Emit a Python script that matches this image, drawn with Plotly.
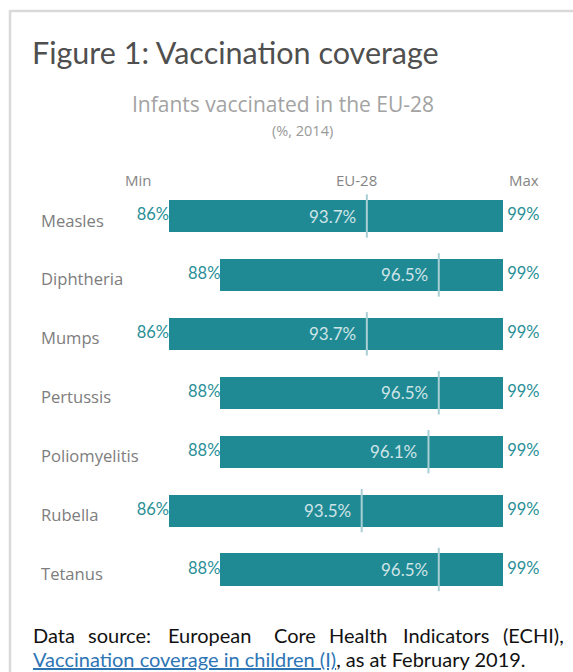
import plotly.graph_objects as go

# ---- data ----
diseases = ["Measles", "Diphtheria", "Mumps", "Pertussis", "Poliomyelitis", "Rubella", "Tetanus"]
min_vals = [86, 88, 86, 88, 88, 86, 88]
eu_vals = [93.7, 96.5, 93.7, 96.5, 96.1, 93.5, 96.5]
max_vals = [99, 99, 99, 99, 99, 99, 99]
col_headers = ["Min", "EU-28", "Max"]

W, H = 573, 672
BAR = "#1f8a94"
TEAL_TXT = "#2a8f97"
FONT = "Lato"

fig = go.Figure()

# bars from min to max
fig.add_trace(go.Bar(
    y=diseases, x=[mx - mn for mn, mx in zip(min_vals, max_vals)], base=min_vals,
    orientation="h", marker=dict(color=BAR, line=dict(width=0)), width=0.545,
    hoverinfo="skip", showlegend=False,
))
# EU-28 marker lines
fig.add_trace(go.Scatter(
    y=diseases, x=eu_vals, mode="markers",
    marker=dict(symbol="line-ns", size=31, line=dict(width=2, color="#a9cfd5")),
    hoverinfo="skip", showlegend=False,
))
# min labels
fig.add_trace(go.Scatter(
    y=diseases, x=min_vals, mode="text", text=[f"{v}%" for v in min_vals],
    textposition="middle left", textfont=dict(family=FONT, size=16.5, color=TEAL_TXT),
    hoverinfo="skip", showlegend=False,
))
# max labels
fig.add_trace(go.Scatter(
    y=diseases, x=max_vals, mode="text", text=[f" {v}%" for v in max_vals],
    textposition="middle right", textfont=dict(family=FONT, size=16.5, color=TEAL_TXT),
    hoverinfo="skip", showlegend=False,
))

annotations = []
# EU-28 value labels inside bars
for d, v in zip(diseases, eu_vals):
    annotations.append(dict(
        x=v, y=d, xref="x", yref="y", text=f"{v}%", showarrow=False,
        xanchor="right", xshift=-9, font=dict(family=FONT, size=17, color="#cfe4e7"),
    ))
# category labels
for d in diseases:
    annotations.append(dict(
        x=39 / W, y=d, xref="paper", yref="y", text=d, showarrow=False,
        xanchor="left", yshift=-4, font=dict(family="Open Sans", size=16.6, color="#7d7d7d"),
    ))

def py(pix):
    return 1 - pix / H

# column headers
hdr_x = [min_vals[0] - 1.2, eu_vals[0] - 0.4, max_vals[0] + 0.8]
for t, hx in zip(col_headers, hdr_x):
    annotations.append(dict(
        x=hx, y=py(180), xref="x", yref="paper", text=t, showarrow=False,
        xanchor="center", yanchor="middle", font=dict(family="Open Sans", size=15, color="#858585"),
    ))

# title & subtitles
annotations.append(dict(x=30 / W, y=py(52), xref="paper", yref="paper",
                        text="Figure 1: Vaccination coverage", showarrow=False,
                        xanchor="left", yanchor="middle",
                        font=dict(family=FONT, size=30.5, color="#4f4f4f")))
annotations.append(dict(x=283 / W, y=py(104), xref="paper", yref="paper",
                        text="Infants vaccinated in the EU-28", showarrow=False,
                        xanchor="center", yanchor="middle",
                        font=dict(family="Open Sans", size=21, color="#a3a3a3")))
annotations.append(dict(x=303 / W, y=py(131), xref="paper", yref="paper",
                        text="(%, 2014)", showarrow=False,
                        xanchor="center", yanchor="middle",
                        font=dict(family="Open Sans", size=14.5, color="#9a9a9a")))

# footer (justified first line)
words = ["Data", "source:", "European", "Core", "Health", "Indicators", "(ECHI),"]
word_x = [31, 86, 166, 272, 327, 401, 501]
for w_, wx in zip(words, word_x):
    annotations.append(dict(x=wx / W, y=py(635), xref="paper", yref="paper",
                            text=w_, showarrow=False, xanchor="left", yanchor="middle",
                            font=dict(family=FONT, size=20, color="#111111")))
annotations.append(dict(x=31 / W, y=py(659), xref="paper", yref="paper",
                        text="<span style='color:#2e75b6'><u>Vaccination coverage in children (I)</u></span>, as at February 2019.",
                        showarrow=False, xanchor="left", yanchor="middle",
                        font=dict(family=FONT, size=20, color="#111111")))

# axis mapping: 86 -> 169px, 99 -> 503px
ppu = (503 - 169) / 13.0
x0 = 86 - 169 / ppu
x1 = 99 + (W - 503) / ppu
step = 58.92
yc0 = 216
y_top = -yc0 / step
y_bot = (H - yc0) / step

fig.update_layout(
    width=W, height=H, margin=dict(l=0, r=0, t=0, b=0),
    paper_bgcolor="white", plot_bgcolor="white",
    xaxis=dict(range=[x0, x1], visible=False, fixedrange=True),
    yaxis=dict(type="category", categoryarray=diseases, range=[y_bot, y_top],
               visible=False, fixedrange=True),
    annotations=annotations,
    shapes=[
        dict(type="line", xref="paper", yref="paper", x0=10 / W, x1=1, y0=py(11), y1=py(11),
             line=dict(color="#d9d9d9", width=2.5)),
        dict(type="line", xref="paper", yref="paper", x0=10 / W, x1=10 / W, y0=py(10), y1=0,
             line=dict(color="#d9d9d9", width=2.5)),
    ],
    bargap=0,
)

fig.write_html("out.html")
